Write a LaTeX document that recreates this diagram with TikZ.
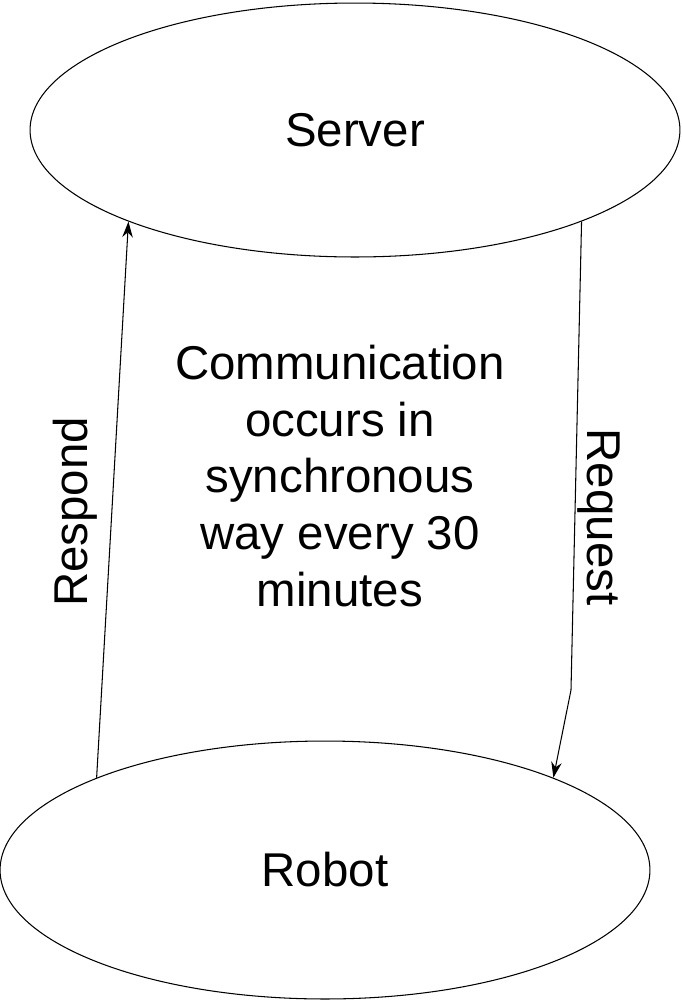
\documentclass[tikz,border=0pt]{standalone}
\usepackage{fontspec}
\setmainfont{Liberation Sans}
\usetikzlibrary{shapes.geometric,arrows.meta}
\tikzset{
  blob/.style={draw,ellipse,line width=0.6pt,inner sep=0pt},
  link/.style={line width=0.6pt,-{Stealth[length=9pt,width=6pt]}},
  big/.style={font=\fontsize{27}{32.4}\selectfont}
}
\begin{document}
\begin{tikzpicture}[x=0.02cm,y=-0.02cm]
            \useasboundingbox (0,0) rectangle (681,1002);
            \node[blob,big,minimum width=13cm,minimum height=5.08cm] (server) at (355,130) {Server};
            \node[blob,big,minimum width=13cm,minimum height=5.16cm] (robot) at (325,870) {Robot};
            \node[big,align=center] (note) at (340,476) {Communication\\occurs in\\synchronous\\way every 30\\minutes};
            \node[big,rotate=90] (respond) at (75,512) {Respond};
            \node[big,rotate=-90] (request) at (599,517) {Request};
            \coordinate (bend) at (571,690);
            \draw[link] (robot.158) -- (server.202);
            \draw[link] (server.338) -- (bend) -- (robot.22);
\end{tikzpicture}
\end{document}
